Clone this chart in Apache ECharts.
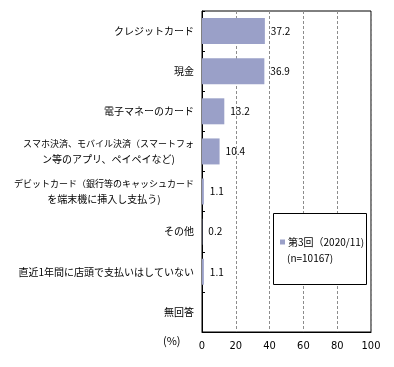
<!DOCTYPE html>
<html><head><meta charset="utf-8">
<script src="https://cdn.jsdelivr.net/npm/echarts@6/dist/echarts.min.js"></script>
<style>html,body{margin:0;padding:0;background:#fff}#c{width:394px;height:367px}</style>
</head><body><div id="c"></div>
<script>
const categories = [
  'クレジットカード',
  '現金',
  '電子マネーのカード',
  'スマホ決済、モバイル決済（スマートフォ\nン等のアプリ、ペイペイなど)',
  'デビットカード（銀行等のキャッシュカード\nを端末機に挿入し支払う)',
  'その他',
  '直近1年間に店頭で支払いはしていない',
  '無回答'
];
const values = [37.2, 36.9, 13.2, 10.4, 1.1, 0.2, 1.1, null];
const seriesName = '第3回（2020/11)';
const sampleNote = '(n=10167)';
const unitLabel = '(%)';
const xTicks = { min: 0, max: 100, interval: 20 };

const FONT = '"Noto Sans CJK JP", sans-serif';
const chart = echarts.init(document.getElementById('c'), null, { renderer: 'canvas' });
chart.setOption({
  animation: false,
  backgroundColor: '#fff',
  grid: { left: 202, top: 11, width: 169, height: 321, containLabel: false, outerBoundsMode: 'none',
    show: true, borderColor: '#000', borderWidth: 1, backgroundColor: 'transparent' },
  xAxis: {
    type: 'value', min: xTicks.min, max: xTicks.max, interval: xTicks.interval,
    axisLine: { show: true, lineStyle: { color: '#000' } },
    axisTick: { show: false },
    splitLine: { show: true, lineStyle: { color: '#8c8c8c', type: [3, 2], width: 1 } },
    axisLabel: { color: '#000', fontSize: 11, margin: 9, fontFamily: '"Liberation Sans Narrow", "DejaVu Sans Condensed", "Liberation Sans", sans-serif' }
  },
  yAxis: {
    type: 'category', data: categories, inverse: true,
    axisLine: { show: true, lineStyle: { color: '#000' } },
    axisTick: { show: true, inside: true, length: 3, lineStyle: { color: '#000' } },
    axisLabel: {
      color: '#000', margin: 8, fontFamily: FONT, fontSize: 10,
      formatter: function (v) {
        return v.split('\n').map(function (s) { return (s.length >= 19 ? '{d|' : '{c|') + s + '}'; }).join('\n');
      },
      rich: {
        c: { align: 'center', lineHeight: 16, fontSize: 10, fontFamily: FONT, color: '#000' },
        d: { align: 'center', lineHeight: 16, fontSize: 9, fontFamily: FONT, color: '#000' }
      }
    }
  },
  legend: {
    data: [seriesName], left: 280, top: 237, padding: 0, itemWidth: 5, itemHeight: 5, itemGap: 0,
    icon: 'rect', z: 6,
    textStyle: { color: '#000', fontSize: 10, fontFamily: FONT, padding: [0, 0, 0, -2] }
  },
  graphic: [
    { type: 'rect', z: 5, shape: { x: 273.5, y: 213.5, width: 93, height: 71 }, style: { fill: '#fff', stroke: '#000', lineWidth: 1 } },
    { type: 'text', z: 6, left: 287, top: 253, style: { text: sampleNote, fill: '#000', fontSize: 10, fontFamily: FONT } },
    { type: 'text', z: 6, left: 163, top: 335, style: { text: unitLabel, fill: '#000', fontSize: 11, fontFamily: FONT } }
  ],
  series: [{
    name: seriesName, type: 'bar', data: values, barWidth: 26,
    itemStyle: { color: '#9aa0c8' },
    label: { show: true, position: 'right', distance: 6, color: '#000', fontSize: 10, fontFamily: FONT,
      formatter: function (p) { return p.value == null ? '' : p.value.toFixed(1); } }
  }]
});
</script></body></html>
